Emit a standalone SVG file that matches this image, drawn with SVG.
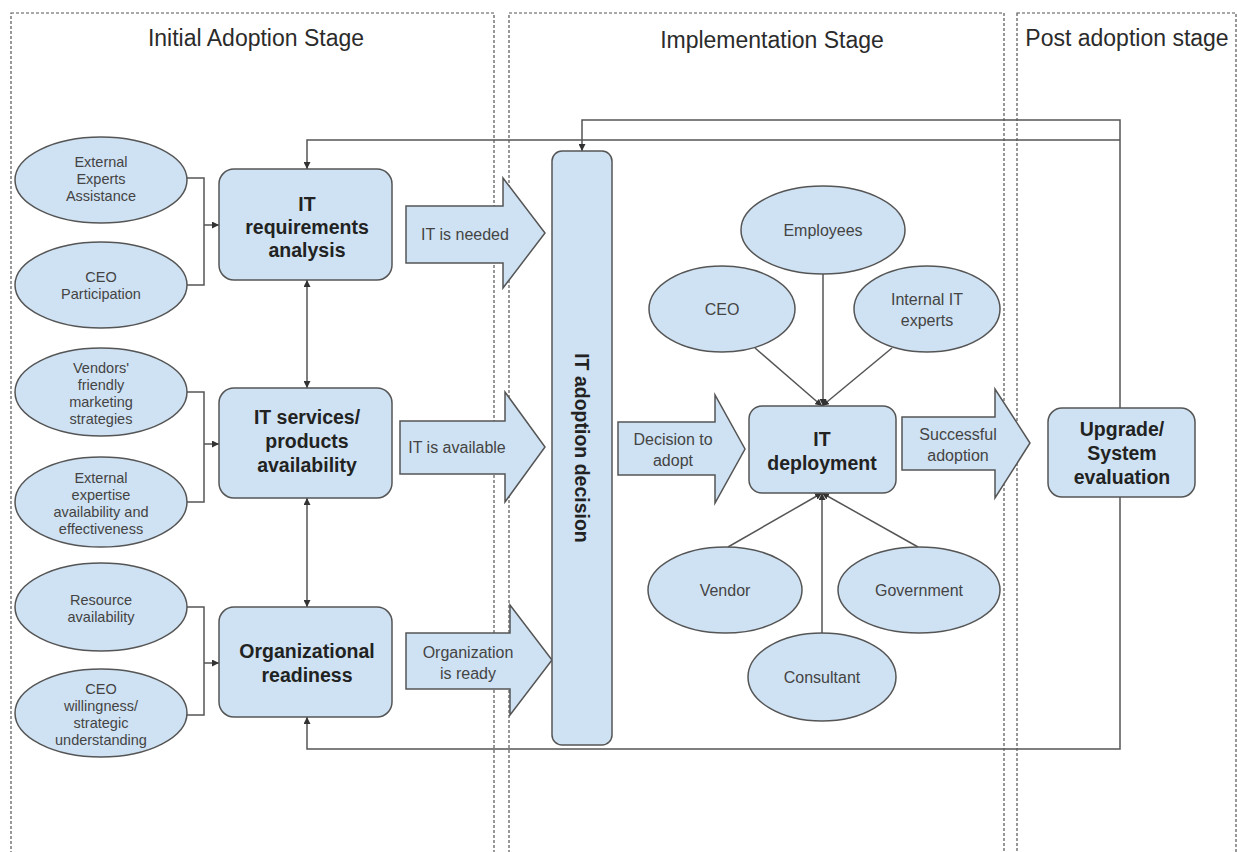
<svg xmlns="http://www.w3.org/2000/svg" width="1237" height="852" viewBox="0 0 1237 852">
  <style>
    .stage { fill: none; stroke: #555; stroke-width: 1.2; stroke-dasharray: 3 2; }
    .title { font-family: "Liberation Sans", Arial, sans-serif; font-size: 23px; fill: #2b2b2b; text-anchor: middle; }
    .oval { fill: #cfe2f3; stroke: #555; stroke-width: 1.5; }
    .box { fill: #cfe2f3; stroke: #555; stroke-width: 1.5; }
    .barrow { fill: #cfe2f3; stroke: #555; stroke-width: 1.5; stroke-linejoin: miter; }
    .small { font-family: "Liberation Sans", Arial, sans-serif; font-size: 14.5px; fill: #444; text-anchor: middle; }
    .label { font-family: "Liberation Sans", Arial, sans-serif; font-size: 16px; fill: #444; text-anchor: middle; }
    .bold { font-family: "Liberation Sans", Arial, sans-serif; font-size: 19.5px; font-weight: bold; fill: #222; text-anchor: middle; }
    .wire { fill: none; stroke: #555; stroke-width: 1.5; }
  </style>
  <defs>
    <marker id="head" viewBox="0 0 10 10" refX="10" refY="5" markerWidth="7" markerHeight="7" markerUnits="userSpaceOnUse" orient="auto-start-reverse">
      <path d="M0,0 L10,5 L0,10 z" fill="#333"/>
    </marker>
  </defs>

  <rect width="1237" height="852" fill="#fff"/>

  <!-- stage frames -->
  <g id="stages">
    <rect class="stage" x="11" y="13" width="483" height="860"/>
    <rect class="stage" x="509" y="13" width="495" height="860"/>
    <rect class="stage" x="1017" y="13" width="219" height="860"/>
    <text class="title" x="256" y="46">Initial Adoption Stage</text>
    <text class="title" x="772" y="48">Implementation Stage</text>
    <text class="title" x="1127" y="46">Post adoption stage</text>
  </g>

  <!-- connectors -->
  <g id="connectors">
    <!-- brackets from influence ovals -->
    <path class="wire" d="M187,178 H204 V285 H187"/>
    <path class="wire" d="M204,225 H219" marker-end="url(#head)"/>
    <path class="wire" d="M187,392 H204 V502 H187"/>
    <path class="wire" d="M204,444 H219" marker-end="url(#head)"/>
    <path class="wire" d="M187,607 H204 V715 H187"/>
    <path class="wire" d="M204,663 H219" marker-end="url(#head)"/>
    <!-- links between first-stage boxes -->
    <path class="wire" d="M307,280 V388" marker-start="url(#head)" marker-end="url(#head)"/>
    <path class="wire" d="M307,498 V607" marker-start="url(#head)" marker-end="url(#head)"/>
    <!-- feedback loops from evaluation -->
    <path class="wire" d="M1120,408 V120 H582 V151" marker-end="url(#head)"/>
    <path class="wire" d="M1120,140 H307 V169" marker-end="url(#head)"/>
    <path class="wire" d="M1120,497 V749 H307 V717" marker-end="url(#head)"/>
    <!-- actors feeding deployment -->
    <path class="wire" d="M823,273 V406" marker-end="url(#head)"/>
    <path class="wire" d="M755,348 L822,406" marker-end="url(#head)"/>
    <path class="wire" d="M892,348 L822,406" marker-end="url(#head)"/>
    <path class="wire" d="M728,547 L822,493" marker-end="url(#head)"/>
    <path class="wire" d="M822,633 V493" marker-end="url(#head)"/>
    <path class="wire" d="M918,547 L822,493" marker-end="url(#head)"/>
  </g>

  <!-- influence ovals, initial stage -->
  <g id="externalExperts">
    <ellipse class="oval" cx="101" cy="180" rx="86" ry="43"/>
    <text class="small"><tspan x="101" y="167">External</tspan><tspan x="101" y="184">Experts</tspan><tspan x="101" y="201">Assistance</tspan></text>
  </g>
  <g id="ceoParticipation">
    <ellipse class="oval" cx="101" cy="285" rx="86" ry="43"/>
    <text class="small"><tspan x="101" y="282">CEO</tspan><tspan x="101" y="299">Participation</tspan></text>
  </g>
  <g id="vendorsMarketing">
    <ellipse class="oval" cx="101" cy="392" rx="86" ry="44"/>
    <text class="small"><tspan x="101" y="373">Vendors'</tspan><tspan x="101" y="390">friendly</tspan><tspan x="101" y="407">marketing</tspan><tspan x="101" y="424">strategies</tspan></text>
  </g>
  <g id="externalExpertise">
    <ellipse class="oval" cx="101" cy="502" rx="86" ry="45"/>
    <text class="small"><tspan x="101" y="483">External</tspan><tspan x="101" y="500">expertise</tspan><tspan x="101" y="517">availability and</tspan><tspan x="101" y="534">effectiveness</tspan></text>
  </g>
  <g id="resourceAvailability">
    <ellipse class="oval" cx="101" cy="607" rx="86" ry="44"/>
    <text class="small"><tspan x="101" y="605">Resource</tspan><tspan x="101" y="622">availability</tspan></text>
  </g>
  <g id="ceoWillingness">
    <ellipse class="oval" cx="101" cy="713" rx="86" ry="44"/>
    <text class="small"><tspan x="101" y="694">CEO</tspan><tspan x="101" y="711">willingness/</tspan><tspan x="101" y="728">strategic</tspan><tspan x="101" y="745">understanding</tspan></text>
  </g>

  <!-- first-stage boxes -->
  <g id="requirementsAnalysis">
    <rect class="box" x="219" y="169" width="173" height="111" rx="15"/>
    <text class="bold"><tspan x="307" y="211">IT</tspan><tspan x="307" y="234">requirements</tspan><tspan x="307" y="257">analysis</tspan></text>
  </g>
  <g id="servicesAvailability">
    <rect class="box" x="219" y="388" width="173" height="110" rx="15"/>
    <text class="bold"><tspan x="307" y="424">IT services/</tspan><tspan x="307" y="448">products</tspan><tspan x="307" y="472">availability</tspan></text>
  </g>
  <g id="orgReadiness">
    <rect class="box" x="219" y="607" width="173" height="110" rx="15"/>
    <text class="bold"><tspan x="307" y="658">Organizational</tspan><tspan x="307" y="682">readiness</tspan></text>
  </g>

  <!-- block arrows into the decision -->
  <g id="itNeeded">
    <polygon class="barrow" points="406,206 503,206 503,178 545,233 503,288 503,263 406,263"/>
    <text class="label" x="465" y="240">IT is needed</text>
  </g>
  <g id="itAvailable">
    <polygon class="barrow" points="400,421 505,421 505,392 545,447 505,502 505,474 400,474"/>
    <text class="label" x="457" y="453">IT is available</text>
  </g>
  <g id="orgReady">
    <polygon class="barrow" points="406,633 510,633 510,605 552,660 510,715 510,689 406,689"/>
    <text class="label"><tspan x="468" y="658">Organization</tspan><tspan x="468" y="679">is ready</tspan></text>
  </g>

  <!-- adoption decision bar -->
  <g id="adoptionDecision">
    <rect class="box" x="552" y="151" width="60" height="594" rx="10"/>
    <text class="bold" transform="translate(582,448) rotate(90)" x="0" y="7">IT adoption decision</text>
  </g>

  <g id="decisionToAdopt">
    <polygon class="barrow" points="618,422 715,422 715,395 745,449 715,503 715,475 618,475"/>
    <text class="label"><tspan x="673" y="445">Decision to</tspan><tspan x="673" y="466">adopt</tspan></text>
  </g>

  <!-- deployment and its actors -->
  <g id="deployment">
    <rect class="box" x="749" y="406" width="147" height="87" rx="13"/>
    <text class="bold"><tspan x="822" y="446">IT</tspan><tspan x="822" y="470">deployment</tspan></text>
  </g>
  <g id="employees">
    <ellipse class="oval" cx="823" cy="230" rx="82" ry="44"/>
    <text class="label" x="823" y="236">Employees</text>
  </g>
  <g id="ceo">
    <ellipse class="oval" cx="722" cy="309" rx="73" ry="43"/>
    <text class="label" x="722" y="315">CEO</text>
  </g>
  <g id="internalExperts">
    <ellipse class="oval" cx="927" cy="309" rx="73" ry="43"/>
    <text class="label"><tspan x="927" y="305">Internal IT</tspan><tspan x="927" y="326">experts</tspan></text>
  </g>
  <g id="vendor">
    <ellipse class="oval" cx="725" cy="590" rx="77" ry="43"/>
    <text class="label" x="725" y="596">Vendor</text>
  </g>
  <g id="government">
    <ellipse class="oval" cx="919" cy="590" rx="81" ry="43"/>
    <text class="label" x="919" y="596">Government</text>
  </g>
  <g id="consultant">
    <ellipse class="oval" cx="822" cy="677" rx="74" ry="44"/>
    <text class="label" x="822" y="683">Consultant</text>
  </g>

  <g id="successfulAdoption">
    <polygon class="barrow" points="902,417 995,417 995,389 1030,443 995,498 995,470 902,470"/>
    <text class="label"><tspan x="958" y="440">Successful</tspan><tspan x="958" y="461">adoption</tspan></text>
  </g>

  <!-- post adoption -->
  <g id="upgradeEvaluation">
    <rect class="box" x="1048" y="408" width="147" height="89" rx="14"/>
    <text class="bold"><tspan x="1122" y="436">Upgrade/</tspan><tspan x="1122" y="460">System</tspan><tspan x="1122" y="484">evaluation</tspan></text>
  </g>
</svg>
